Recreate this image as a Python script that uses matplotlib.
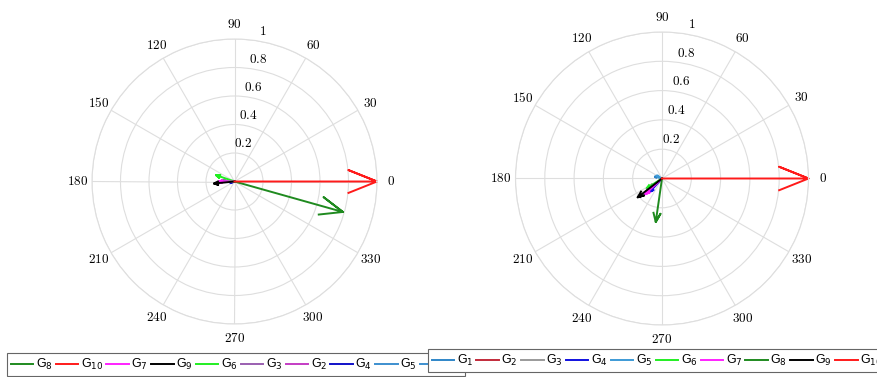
import numpy as np
import matplotlib
matplotlib.use("Agg")
import matplotlib.pyplot as plt
import matplotlib.transforms as mtransforms
from matplotlib.lines import Line2D
from matplotlib.font_manager import FontProperties

# ---- data: vector magnitudes and directions (degrees) ----
names = ["G1", "G2", "G3", "G4", "G5", "G6", "G7", "G8", "G9", "G10"]

left_mag = [0.02, 0.08, 0.09, 0.03, 0.02, 0.137, 0.11, 0.79, 0.145, 1.0]
left_ang = [170, 178, 175, 200, 190, 161, 180, 344.3, 185.6, 0]
left_colors = ["#3d8fcf", "#c43cc4", "#9a5fb0", "#1010c8", "#3d8fcf",
               "#22ee22", "#ff22ff", "#1f8a1f", "#000000", "#ff1a1a"]
left_legend_order = ["G8", "G10", "G7", "G9", "G6", "G3", "G2", "G4", "G5", "G1"]

right_mag = [0.05, 0.10, 0.10, 0.122, 0.04, 0.124, 0.158, 0.30, 0.21, 1.0]
right_ang = [165, 220, 215, 227.7, 150, 212.6, 222.9, 261.8, 217.7, 0]
right_colors = ["#2f86c8", "#c22a3a", "#9a9a9a", "#1010e0", "#3d9ad6",
                "#22ee22", "#ff22ff", "#1f8a1f", "#000000", "#ff1a1a"]
right_legend_order = names

theta_ticks = [0, 30, 60, 90, 120, 150, 180, 210, 240, 270, 300, 330]
r_ticks = [0.2, 0.4, 0.6, 0.8, 1.0]
r_tick_labels = ["0.2", "0.4", "0.6", "0.8", "1"]

GRID = "#dedede"
W, H = 877, 377

fig = plt.figure(figsize=(W / 100, H / 100), dpi=100)


def make_compass(rect):
    ax = fig.add_axes(rect, projection="polar")
    ax.set_ylim(0, 1)
    ax.set_xticks(np.deg2rad(theta_ticks))
    ax.set_xticklabels([])
    ax.set_yticks(r_ticks)
    ax.set_yticklabels([])
    ax.grid(True, color=GRID, lw=0.8)
    ax.spines["polar"].set_color(GRID)
    ax.spines["polar"].set_linewidth(0.8)
    ax.tick_params(length=0)
    for t in theta_ticks:
        ax.text(np.deg2rad(t), 1.1, f"${t}$", ha="center", va="center",
                fontsize=9.5, math_fontfamily="cm", clip_on=False)
    off = mtransforms.offset_copy(ax.transData, fig=fig, x=4, y=10, units="dots")
    for r, lab in zip(r_ticks, r_tick_labels):
        ax.text(np.deg2rad(80), r, f"${lab}$", ha="center", va="center",
                fontsize=9.5, math_fontfamily="cm", transform=off, clip_on=False)
    return ax


def compass_arrow(ax, mag, ang, color):
    z = mag * np.exp(1j * np.deg2rad(ang))
    shape = np.array([0, 1, 0.8 + 0.08j, 1, 0.8 - 0.08j])
    pts = shape * z
    ax.plot(np.angle(pts), np.abs(pts), color=color, lw=1.4, clip_on=False)


ax1 = make_compass([92 / W, 1 - 324 / H, 285 / W, 285 / H])
ax2 = make_compass([515.5 / W, 1 - 325 / H, 293 / W, 293 / H])

for m, a, c in zip(left_mag, left_ang, left_colors):
    compass_arrow(ax1, m, a, c)
for m, a, c in zip(right_mag, right_ang, right_colors):
    compass_arrow(ax2, m, a, c)
ax1.set_ylim(0, 1)
ax2.set_ylim(0, 1)

leg_font = FontProperties(family="Liberation Sans", size=9, math_fontfamily="dejavusans")


def label_of(n):
    return "G$_{" + n[1:] + "}$"


def add_legend(order, colors, x0, ybottom):
    handles = [Line2D([], [], color=colors[names.index(n)], lw=1.4) for n in order]
    labels = [label_of(n) for n in order]
    leg = fig.legend(handles, labels, loc="lower left",
                     bbox_to_anchor=(x0 / W, 1 - ybottom / H), ncol=len(order),
                     prop=leg_font, frameon=True, fancybox=False, framealpha=1,
                     edgecolor="#666666", borderaxespad=0, borderpad=0.3,
                     handlelength=1.8, handletextpad=0.2, columnspacing=0.25)
    leg.get_frame().set_linewidth(0.8)
    return leg


add_legend(left_legend_order, left_colors, 7, 376)
add_legend(right_legend_order, right_colors, 428, 372)

fig.savefig("out.png", dpi=100)
